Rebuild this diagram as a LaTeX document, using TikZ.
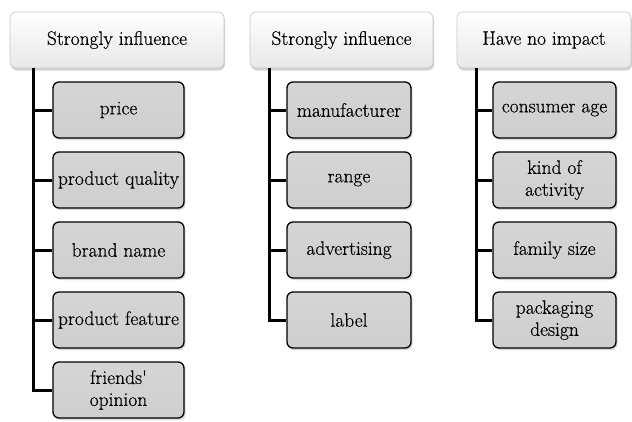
\documentclass[tikz,border=0pt]{standalone}
\usepackage{fontspec}
\newfontfamily\lmx{Latin Modern Roman}[FakeBold=0.45]
\usetikzlibrary{shadows}
\tikzset{
  hdr/.style={draw=gray!45, line width=0.6pt, rounded corners=6pt,
    top color=white, bottom color=gray!18, inner sep=0pt,
    minimum height=56pt, align=center,
    font=\lmx\fontsize{19.5}{22}\selectfont,
    drop shadow={shadow xshift=1pt, shadow yshift=-2.5pt, opacity=0.35}},
  kid/.style={draw=black, line width=1.3pt, rounded corners=6pt,
    top color=gray!33, bottom color=gray!38, inner sep=0pt,
    minimum height=56pt, align=center,
    font=\lmx\fontsize{19.5}{22}\selectfont,
    drop shadow={shadow xshift=1.5pt, shadow yshift=-2pt, opacity=0.3}},
  trunk/.style={line width=3pt, black}
}
\begin{document}
\begin{tikzpicture}[x=1pt,y=-1pt]
\useasboundingbox (0,0) rectangle (632,421);
% headers
\node[hdr, minimum width=214pt] (h1) at (117,40) {Strongly influence};
\node[hdr, minimum width=183pt] (h2) at (341.5,40) {Strongly influence};
\node[hdr, minimum width=174pt] (h3) at (544,40) {Have no impact};
% trunk starts
\coordinate (t1) at (33,68);
\coordinate (t2) at (269,68);
\coordinate (t3) at (476,68);
% column 1 children
\node[kid, minimum width=131pt] (a1) at (118.5,110) {price};
\node[kid, minimum width=131pt] (a2) at (118.5,180) {product quality};
\node[kid, minimum width=131pt] (a3) at (118.5,250) {brand name};
\node[kid, minimum width=131pt] (a4) at (118.5,320) {product feature};
\node[kid, minimum width=131pt] (a5) at (118.5,390) {friends\textquotesingle\\opinion};
% column 2 children
\node[kid, minimum width=124pt] (b1) at (349,110) {manufacturer};
\node[kid, minimum width=124pt] (b2) at (349,180) {range};
\node[kid, minimum width=124pt] (b3) at (349,250) {advertising};
\node[kid, minimum width=124pt] (b4) at (349,320) {label};
% column 3 children
\node[kid, minimum width=123pt] (c1) at (554.5,110) {consumer age};
\node[kid, minimum width=123pt] (c2) at (554.5,180) {kind of\\activity};
\node[kid, minimum width=123pt] (c3) at (554.5,250) {family size};
\node[kid, minimum width=123pt] (c4) at (554.5,320) {packaging\\design};
% connectors
\foreach \n in {a1,a2,a3,a4,a5} \draw[trunk] (t1) |- (\n.west);
\foreach \n in {b1,b2,b3,b4} \draw[trunk] (t2) |- (\n.west);
\foreach \n in {c1,c2,c3,c4} \draw[trunk] (t3) |- (\n.west);
\end{tikzpicture}
\end{document}
